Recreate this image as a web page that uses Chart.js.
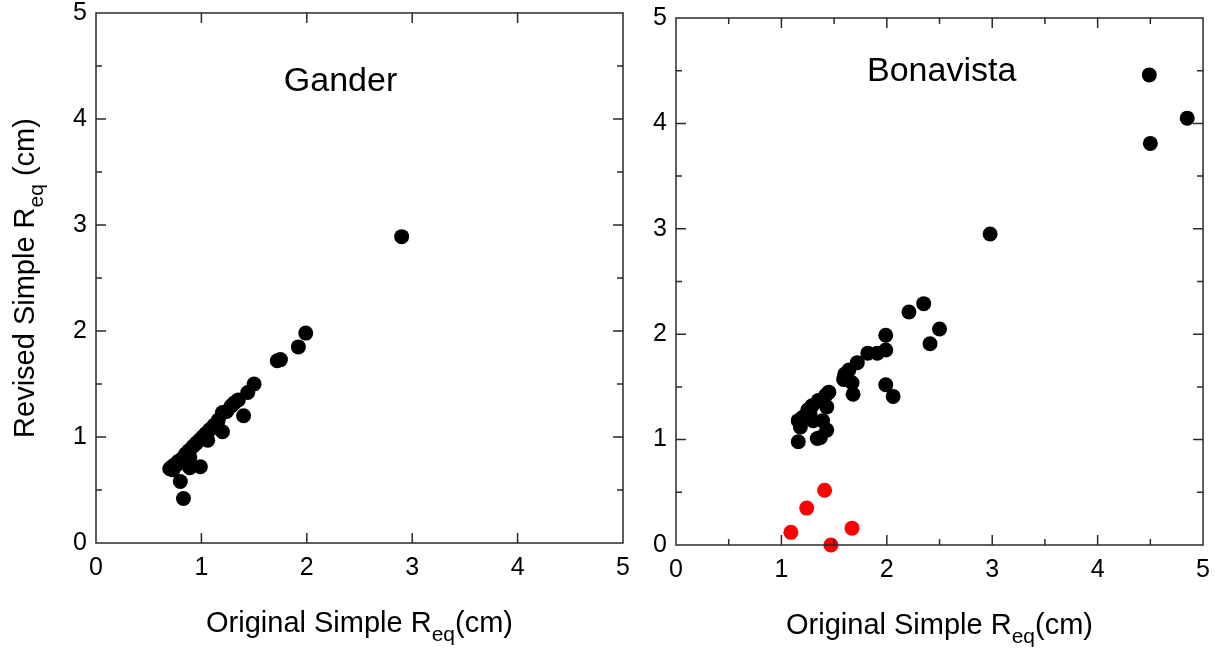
<!DOCTYPE html>
<html>
<head>
<meta charset="utf-8">
<script src="https://cdn.jsdelivr.net/npm/chart.js@4/dist/chart.umd.min.js"></script>
<style>
  body { margin: 0; background: #fff; overflow: hidden; }
  #wrap { position: relative; width: 1215px; height: 649px; overflow: hidden; }
  .box { position: absolute; height: 700px; }
  #left-box { left: 0; top: -11px; width: 650px; }
  #right-box { left: 630px; top: -6px; width: 590px; }
</style>
</head>
<body>
<div id="wrap">
  <div class="box" id="left-box"><canvas id="gander-chart"></canvas></div>
  <div class="box" id="right-box"><canvas id="bonavista-chart"></canvas></div>
</div>
<script>
// Gander: original vs revised simple Req (cm)
const ganderX = [2.90, 1.99, 1.92, 1.75, 1.72, 1.50, 1.44, 1.35, 1.40, 1.20, 1.20, 1.15, 1.06, 0.99,
  0.89, 0.83, 0.77, 0.72, 0.80, 0.83, 0.89, 0.70, 0.73, 0.72, 0.75, 0.78, 0.82, 0.85, 0.88, 0.92,
  0.95, 0.98, 1.01, 1.04, 1.08, 1.12, 1.16, 1.24, 1.28, 1.31];
const ganderY = [2.89, 1.98, 1.85, 1.73, 1.72, 1.50, 1.42, 1.35, 1.20, 1.23, 1.05, 1.13, 0.97, 0.72,
  0.81, 0.78, 0.74, 0.71, 0.58, 0.42, 0.71, 0.70, 0.69, 0.72, 0.74, 0.77, 0.80, 0.84, 0.87, 0.91,
  0.94, 0.97, 1.00, 1.03, 1.07, 1.11, 1.16, 1.24, 1.29, 1.32];

// Bonavista
const bonaX = [4.49, 4.85, 4.50, 2.98, 2.35, 2.21, 2.50, 2.41, 1.99, 1.99, 1.91, 1.82, 1.72, 1.64,
  1.60, 1.59, 1.67, 1.68, 1.99, 2.06, 1.45, 1.42, 1.35, 1.43, 1.29, 1.25, 1.20, 1.16, 1.18, 1.30,
  1.39, 1.43, 1.37, 1.34, 1.16, 1.27];
const bonaY = [4.46, 4.05, 3.81, 2.95, 2.29, 2.21, 2.05, 1.91, 1.99, 1.85, 1.82, 1.82, 1.73, 1.66,
  1.62, 1.57, 1.54, 1.43, 1.52, 1.41, 1.45, 1.42, 1.37, 1.31, 1.32, 1.28, 1.21, 1.18, 1.12, 1.18,
  1.18, 1.09, 1.02, 1.01, 0.98, 1.25];
const bonaRedX = [1.41, 1.24, 1.09, 1.67, 1.47];
const bonaRedY = [0.52, 0.35, 0.12, 0.16, 0.00];

const xTicks = [0, 1, 2, 3, 4, 5];
const yTicks = [0, 1, 2, 3, 4, 5];

const FONT = "'Liberation Sans', Arial, sans-serif";

function toPoints(xs, ys) {
  return xs.map((x, i) => ({ x: x, y: ys[i] }));
}

// draws text made of pieces, some of them subscripts
function drawParts(ctx, parts, x, y) {
  let total = 0;
  parts.forEach(p => {
    ctx.font = p.size + 'px ' + FONT;
    p.w = ctx.measureText(p.t).width;
    total += p.w;
  });
  let cx = x - total / 2;
  ctx.textAlign = 'left';
  ctx.textBaseline = 'alphabetic';
  parts.forEach(p => {
    ctx.font = p.size + 'px ' + FONT;
    ctx.fillText(p.t, cx, y + (p.dy || 0));
    cx += p.w;
  });
}

// frame with inward ticks on all four sides, plus titles
const framePlugin = {
  id: 'frame',
  afterDraw(chart, args, opts) {
    const ctx = chart.ctx;
    const a = chart.chartArea;
    const xs = chart.scales.x, ys = chart.scales.y;
    ctx.save();
    ctx.strokeStyle = '#2a2a2a';
    ctx.lineWidth = 1.5;
    ctx.strokeRect(a.left, a.top, a.right - a.left, a.bottom - a.top);
    ctx.beginPath();
    xs.ticks.forEach(t => {
      const px = xs.getPixelForValue(t.value);
      const len = Number.isInteger(t.value) ? 10 : 6;
      if (t.value <= 0 || t.value >= 5) return;
      ctx.moveTo(px, a.bottom); ctx.lineTo(px, a.bottom - len);
      ctx.moveTo(px, a.top); ctx.lineTo(px, a.top + len);
    });
    ys.ticks.forEach(t => {
      const py = ys.getPixelForValue(t.value);
      const len = Number.isInteger(t.value) ? 10 : 6;
      if (t.value <= 0 || t.value >= 5) return;
      ctx.moveTo(a.left, py); ctx.lineTo(a.left + len, py);
      ctx.moveTo(a.right, py); ctx.lineTo(a.right - len, py);
    });
    ctx.stroke();

    ctx.fillStyle = '#000';
    // plot name
    ctx.font = '34px ' + FONT;
    ctx.textAlign = 'center';
    ctx.textBaseline = 'alphabetic';
    ctx.fillText(opts.name, xs.getPixelForValue(opts.nameX), ys.getPixelForValue(opts.nameY));

    // x title
    const midX = (a.left + a.right) / 2;
    drawParts(ctx, [
      { t: 'Original Simple R', size: 29 },
      { t: 'eq', size: 21, dy: 9 },
      { t: '(cm)', size: 29 }
    ], midX, a.bottom + 89);

    // y title
    if (opts.yTitle) {
      ctx.translate(34, (a.top + a.bottom) / 2);
      ctx.rotate(-Math.PI / 2);
      drawParts(ctx, [
        { t: 'Revised Simple R', size: 29 },
        { t: 'eq', size: 21, dy: 9 },
        { t: ' (cm)', size: 29 }
      ], 0, 0);
    }
    ctx.restore();
  }
};

function makeChart(id, datasets, cfg) {
  return new Chart(document.getElementById(id), {
    type: 'scatter',
    data: { datasets: datasets },
    plugins: [framePlugin],
    options: {
      responsive: true,
      maintainAspectRatio: false,
      animation: false,
      layout: { padding: { top: 0, right: cfg.right, left: 0, bottom: 0 } },
      plugins: {
        legend: { display: false },
        tooltip: { enabled: false },
        frame: { name: cfg.name, nameX: cfg.nameX, nameY: cfg.nameY, yTitle: cfg.yTitle }
      },
      scales: {
        x: {
          type: 'linear', min: 0, max: 5,
          grid: { display: false, drawTicks: false },
          border: { display: false },
          afterFit: s => { s.height = cfg.xHeight; },
          ticks: {
            stepSize: cfg.xStep, autoSkip: false, padding: 10, color: '#000',
            font: { family: FONT, size: 25 },
            callback: v => xTicks.includes(v) ? String(v) : ''
          }
        },
        y: {
          type: 'linear', min: 0, max: 5,
          grid: { display: false, drawTicks: false },
          border: { display: false },
          afterFit: s => { s.width = cfg.yWidth; },
          ticks: {
            stepSize: 0.5, autoSkip: false, padding: 9, color: '#000',
            font: { family: FONT, size: 25 },
            callback: v => yTicks.includes(v) ? String(v) : ''
          }
        }
      }
    }
  });
}

const dotStyle = { pointRadius: 7.5, pointBorderWidth: 0, clip: false, showLine: false };

makeChart('gander-chart', [
  Object.assign({ data: toPoints(ganderX, ganderY), backgroundColor: '#000', borderColor: '#000' }, dotStyle)
], { name: 'Gander', nameX: 2.32, nameY: 4.26, yTitle: true, xStep: 1,
     right: 27, xHeight: 146, yWidth: 96 });

makeChart('bonavista-chart', [
  Object.assign({ data: toPoints(bonaX, bonaY), backgroundColor: '#000', borderColor: '#000' }, dotStyle),
  Object.assign({ data: toPoints(bonaRedX, bonaRedY), backgroundColor: '#ff0000', borderColor: '#ff0000' }, dotStyle)
], { name: 'Bonavista', nameX: 2.52, nameY: 4.4, yTitle: false, xStep: 0.5,
     right: 7, xHeight: 149, yWidth: 46 });
</script>
</body>
</html>
